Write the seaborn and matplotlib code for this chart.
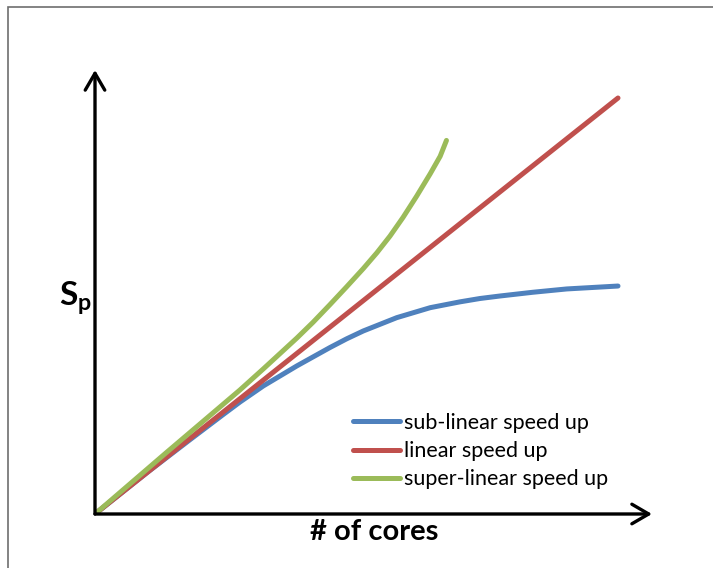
import numpy as np
import pandas as pd
import matplotlib
matplotlib.use("Agg")
import matplotlib.pyplot as plt
from matplotlib.patches import Rectangle
import seaborn as sns

# values (cores on x, speed up on y, both 0..100)
sub_x = [0, 10, 18.2, 24.5, 27.7, 32.2, 38.6, 44.9, 48.1, 51.3, 57.7, 64.1, 69.8, 73.6, 77.4, 83.7, 90.2, 100]
sub_y = [0, 10, 17.9, 23.9, 26.9, 30.8, 35.6, 40.0, 42.1, 44.0, 47.2, 49.6, 51.0, 51.8, 52.4, 53.3, 54.1, 54.8]
lin_x = [0, 100]
lin_y = [0, 100]
sup_x = [0, 13.4, 27.7, 32.2, 35.4, 38.6, 41.7, 44.9, 48.1, 51.3, 53.9, 56.4, 58.9, 61.5, 64.1, 66.0, 67.2]
sup_y = [0, 14.5, 29.8, 34.9, 38.6, 42.3, 46.1, 50.3, 54.6, 59.0, 62.8, 66.8, 71.3, 76.4, 81.8, 86.0, 89.8]
names = ["sub-linear speed up", "linear speed up", "super-linear speed up"]
colors = ["#4F81BD", "#C0504D", "#9BBB59"]

df = pd.concat([
    pd.DataFrame({"cores": sub_x, "speedup": sub_y, "kind": names[0]}),
    pd.DataFrame({"cores": lin_x, "speedup": lin_y, "kind": names[1]}),
    pd.DataFrame({"cores": sup_x, "speedup": sup_y, "kind": names[2]}),
], ignore_index=True)

sns.set_theme(style="white")
plt.rcParams["font.family"] = ["Lato", "DejaVu Sans"]
plt.rcParams["text.color"] = "black"
plt.rcParams["mathtext.fontset"] = "custom"
plt.rcParams["mathtext.bf"] = "Lato:bold"
plt.rcParams["mathtext.rm"] = "Lato"

W, H = 713, 568
fig = plt.figure(figsize=(W / 100, H / 100), dpi=100)
fig.patch.set_facecolor("white")

# axes box: origin at the corner of the arrows
x0, y0, x1, y1 = 95, 514, 652, 70
ax = fig.add_axes([x0 / W, 1 - y0 / H, (x1 - x0) / W, (y0 - y1) / H])
ax.set_xlim(0, (x1 - x0) / 5.23)
ax.set_ylim(0, (y0 - y1) / 4.16)

sns.lineplot(data=df, x="cores", y="speedup", hue="kind", hue_order=names,
             palette=dict(zip(names, colors)), linewidth=3.6, sort=False,
             ax=ax, legend=True)
for ln in ax.lines:
    ln.set_solid_capstyle("round")
    ln.set_solid_joinstyle("round")

for s in ax.spines.values():
    s.set_visible(False)
ax.set_xticks([])
ax.set_yticks([])
ax.set_xlabel("")
ax.set_ylabel("")
ax.patch.set_alpha(0)

arrow = dict(arrowstyle="->,head_length=0.55,head_width=0.32", color="black",
             lw=2.4, mutation_scale=22, shrinkA=0, shrinkB=0)
ax.annotate("", xy=(1, 0), xytext=(0, 0), xycoords="axes fraction",
            textcoords="axes fraction", arrowprops=arrow, annotation_clip=False)
ax.annotate("", xy=(0, 1), xytext=(0, 0), xycoords="axes fraction",
            textcoords="axes fraction", arrowprops=arrow, annotation_clip=False)

fig.text(374 / W, 1 - 532 / H, "# of cores", ha="center", va="center",
         fontsize=21, fontweight="bold", color="black")
fig.text(75 / W, 1 - 298 / H, r"$\mathbf{S_p}$", ha="center", va="center",
         fontsize=24, color="black")

leg = ax.legend(loc="upper left", bbox_to_anchor=(353 / W, 1 - 413 / H),
                bbox_transform=fig.transFigure, frameon=False, fontsize=15.5,
                handlelength=2.2, handletextpad=0.15, labelspacing=0.38,
                borderpad=0, borderaxespad=0)
for h in leg.get_lines():
    h.set_linewidth(3.6)
    h.set_solid_capstyle("round")
for t in leg.get_texts():
    t.set_color("black")

# thin grey frame round the chart area
fig.patches.append(Rectangle((8 / W, -0.1), 1.2, 1 - 7.5 / H + 0.1,
                             transform=fig.transFigure, fill=False,
                             edgecolor="#6e6e6e", linewidth=1.2))

fig.savefig("out.png", dpi=100)
